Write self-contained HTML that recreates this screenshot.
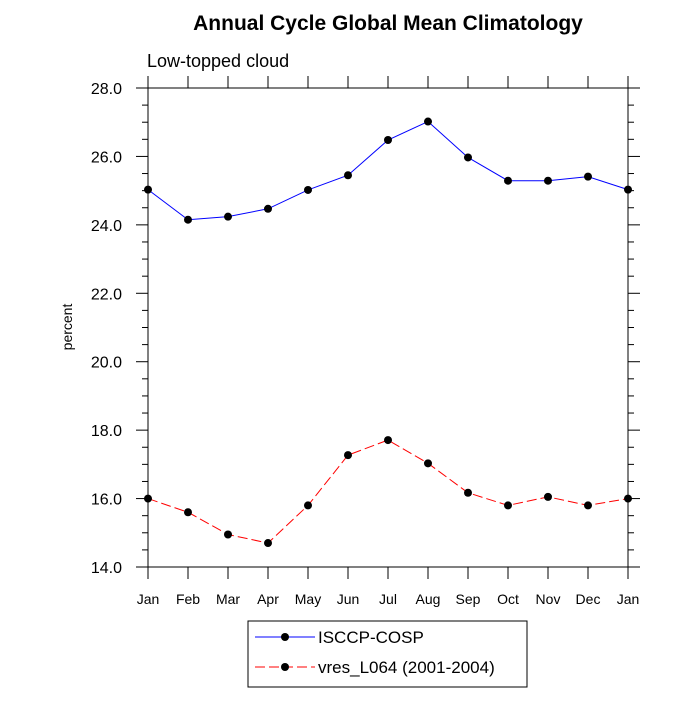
<!DOCTYPE html>
<html><head><meta charset="utf-8"><style>
body{margin:0;background:#fff}
svg text{font-family:"Liberation Sans",Helvetica,sans-serif}
</style></head><body>
<svg id="chart" width="700" height="700" xmlns="http://www.w3.org/2000/svg">
<text x="388" y="30" font-size="21" font-weight="bold" text-anchor="middle">Annual Cycle Global Mean Climatology</text>
<text x="147" y="67" font-size="18">Low-topped cloud</text>
<text x="0" y="0" font-size="14" text-anchor="middle" transform="translate(72,327) rotate(-90)">percent</text>
<g id="axes"></g>
<g id="series"></g>
<rect x="248" y="621" width="279" height="66" fill="none" stroke="#000" stroke-width="1"/>
<line x1="255" y1="637" x2="315" y2="637" stroke="#0000ff"/>
<circle cx="285" cy="637" r="4"/>
<text x="318" y="643" font-size="17">ISCCP-COSP</text>
<line x1="255" y1="667" x2="315" y2="667" stroke="#ff0000" stroke-dasharray="10,4"/>
<circle cx="285" cy="667" r="4"/>
<text x="318" y="673" font-size="17">vres_L064 (2001-2004)</text>
</svg>
<script>
const months=["Jan","Feb","Mar","Apr","May","Jun","Jul","Aug","Sep","Oct","Nov","Dec","Jan"];
const isccp=[25.03,24.15,24.24,24.47,25.02,25.45,26.48,27.02,25.97,25.29,25.29,25.41,25.03];
const model=[16.0,15.6,14.95,14.7,15.8,17.27,17.71,17.03,16.17,15.8,16.05,15.8,16.0];
const yTicks=["14.0","16.0","18.0","20.0","22.0","24.0","26.0","28.0"];
const NS="http://www.w3.org/2000/svg";
const X0=148,X1=628,Y0=567,Y1=88,YMIN=14,YMAX=28;
function xs(i){return X0+(X1-X0)*i/(months.length-1);}
function ys(v){return Y0-(v-YMIN)/(YMAX-YMIN)*(Y0-Y1);}
function mk(t,a,p){const e=document.createElementNS(NS,t);for(const k in a)e.setAttribute(k,a[k]);(p||document.getElementById('axes')).appendChild(e);return e;}
const fr=mk('rect',{x:X0,y:Y1,width:X1-X0,height:Y0-Y1,fill:'none',stroke:'#000','stroke-width':1});


months.forEach((m,i)=>{
  const x=xs(i);
  const t=mk('line',{x1:x,y1:Y0,x2:x,y2:Y0+12,stroke:'#000'});
  
  
  const t2=mk('line',{x1:x,y1:Y1,x2:x,y2:Y1-12,stroke:'#000'});
  
  
  const l=mk('text',{x:x,y:Y0+37,'font-size':14,'text-anchor':'middle'});
  l.textContent=m;
  
  
});
for(let v=YMIN;v<=YMAX+1e-6;v+=0.5){
  const y=ys(v);const major=Math.abs(v/2-Math.round(v/2))<1e-6;const len=major?12:6;
  const a=mk('line',{x1:X0,y1:y,x2:X0-len,y2:y,stroke:'#000'});
  
  
  const b=mk('line',{x1:X1,y1:y,x2:X1+len,y2:y,stroke:'#000'});
  
  
}
yTicks.forEach(s=>{
  const l=mk('text',{x:X0-26,y:ys(parseFloat(s))+6,'font-size':16,'text-anchor':'end'});
  l.textContent=s;
  
  
});
const sg=document.getElementById('series');
function draw(data,color,dash,name){
  const pts=data.map((v,i)=>xs(i)+','+ys(v)).join(' ');
  const a={points:pts,fill:'none',stroke:color,'stroke-width':1};
  if(dash)a['stroke-dasharray']=dash;
  const pl=mk('polyline',a,sg);
  
  
  data.forEach((v,i)=>{
    const c=mk('circle',{cx:xs(i),cy:ys(v),r:4,fill:'#000'},sg);
    
    
  });
}
draw(isccp,'#0000ff',null,'isccp');
draw(model,'#ff0000','10,4','model');
</script>
</body></html>
